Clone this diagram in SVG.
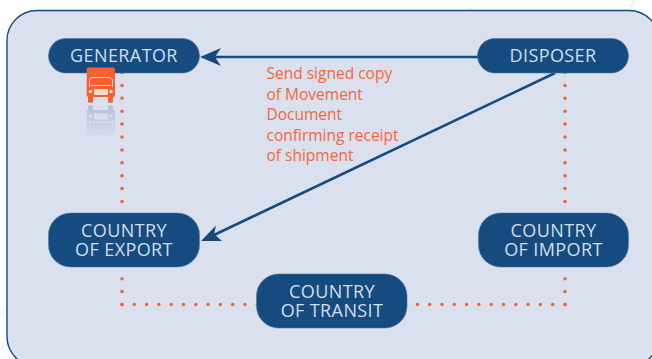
<svg xmlns="http://www.w3.org/2000/svg" width="652" height="359" viewBox="0 0 652 359">
<style>
.node{fill:#154b7e;stroke:#4f769c;stroke-width:.6}
.nt{font-family:"Open Sans","Liberation Sans",sans-serif;font-size:18px;letter-spacing:.4px;fill:#d3deea;text-anchor:middle}
.lbl{font-family:"Open Sans","Liberation Sans",sans-serif;font-size:15.5px;fill:#f2683a}
.dot{fill:none;stroke:#f4602f;stroke-width:3.5;stroke-linecap:round}
.flow{fill:none;stroke:#154b7e;stroke-width:2.6}
.head{fill:#154b7e}
.faint{fill:none;stroke:#e3e9f0;stroke-width:1}
.hl{fill:#fbd9c8}
.rl{fill:#dae0ee}
</style>
<defs>
<linearGradient id="fade" x1="0" y1="0" x2="0" y2="1">
<stop offset="0" stop-color="#bac3dc"/><stop offset=".45" stop-color="#c6cee3"/><stop offset="1" stop-color="#dae0ee"/>
</linearGradient>
</defs>
<rect width="652" height="359" fill="#fff"/>
<path class="faint" d="M0 314L12 304M0 349L10 344M462 14L473 7M630 10L634 0"/>
<rect x="7" y="10.500" width="652" height="356" rx="30" fill="#dae0ee" stroke="#154b7e" stroke-width="1.400"/>
<g id="connectors">
<path class="dot" stroke-dasharray="0 12.9" d="M122 72.500V213"/>
<path class="dot" stroke-dasharray="0 12.9" d="M122 304.500V266"/>
<path class="dot" stroke-dasharray="0 12.300" d="M122 304.500H258"/>
<path class="dot" stroke-dasharray="0 12.9" d="M565 72.500V213"/>
<path class="dot" stroke-dasharray="0 12.9" d="M565 304.500V266"/>
<path class="dot" stroke-dasharray="0 12.300" d="M565 304.500H410"/>
<path class="flow" d="M478 57H214"/>
<path class="head" d="M200 57L221 48L215 57L221 66Z"/>
<path class="flow" d="M555 73L214 235"/>
<path class="head" d="M201 241L216 225.500L214 234L222 241Z"/>
</g>
<g id="generator"><rect class="node" x="48.500" y="38.500" width="151" height="34.500" rx="17.250"/><text class="nt" x="124" y="61.700">GENERATOR</text></g>
<g id="truck-icon">
<rect x="86.700" y="67.500" width="28.300" height="29.500" rx="2" fill="#f4602f"/>
<rect x="88" y="95" width="5" height="7.700" rx="1.500" fill="#f4602f"/>
<rect x="108" y="95" width="5" height="7.700" rx="1.500" fill="#f4602f"/>
<path d="M89.500 87V80.500Q89.500 77.500 93 77.500H109Q112.500 77.500 112.500 80.500V87M91 85.500H111" fill="none" stroke="#fbd9c8" stroke-width="1"/>
<rect class="hl" x="94" y="89" width="14" height="6"/>
<circle class="hl" cx="90.500" cy="91.500" r="1.800"/><circle class="hl" cx="111" cy="91.500" r="1.800"/>
<rect x="88" y="105" width="5" height="7" rx="1.500" fill="#bac3dc"/>
<rect x="108" y="105" width="5" height="7" rx="1.500" fill="#bac3dc"/>
<path d="M86.700 110H115V137H86.700Z" fill="url(#fade)"/>
<rect class="rl" x="94" y="113.500" width="14" height="6"/>
<circle class="rl" cx="90.500" cy="116" r="1.800"/><circle class="rl" cx="111" cy="116" r="1.800"/>
<path d="M89.500 120V127Q89.500 130 93 130H109Q112.500 130 112.500 127V120M91 122H111" fill="none" stroke="#dae0ee" stroke-width="1"/>
</g>
<g id="disposer"><rect class="node" x="477.500" y="38.500" width="151" height="34.500" rx="17.250"/><text class="nt" x="553" y="61.700">DISPOSER</text></g>
<g id="country-of-export"><rect class="node" x="48.500" y="213" width="151" height="54" rx="22"/><text class="nt"><tspan x="124" y="236.700">COUNTRY</tspan><tspan x="124" y="256">OF EXPORT</tspan></text></g>
<g id="country-of-import"><rect class="node" x="478.500" y="213" width="150" height="54" rx="22"/><text class="nt"><tspan x="553.500" y="236.700">COUNTRY</tspan><tspan x="553.500" y="256">OF IMPORT</tspan></text></g>
<g id="country-of-transit"><rect class="node" x="256.500" y="274" width="150.500" height="54" rx="22"/><text class="nt"><tspan x="332" y="297.700">COUNTRY</tspan><tspan x="332" y="317">OF TRANSIT</tspan></text></g>
<g id="label">
<text class="lbl" x="266.500" y="79">Send signed copy</text>
<text class="lbl" x="266.500" y="99.500">of Movement</text>
<text class="lbl" x="266.500" y="120">Document</text>
<text class="lbl" x="266.500" y="140.500">confirming receipt</text>
<text class="lbl" x="266.500" y="161">of shipment</text>
</g>
</svg>
